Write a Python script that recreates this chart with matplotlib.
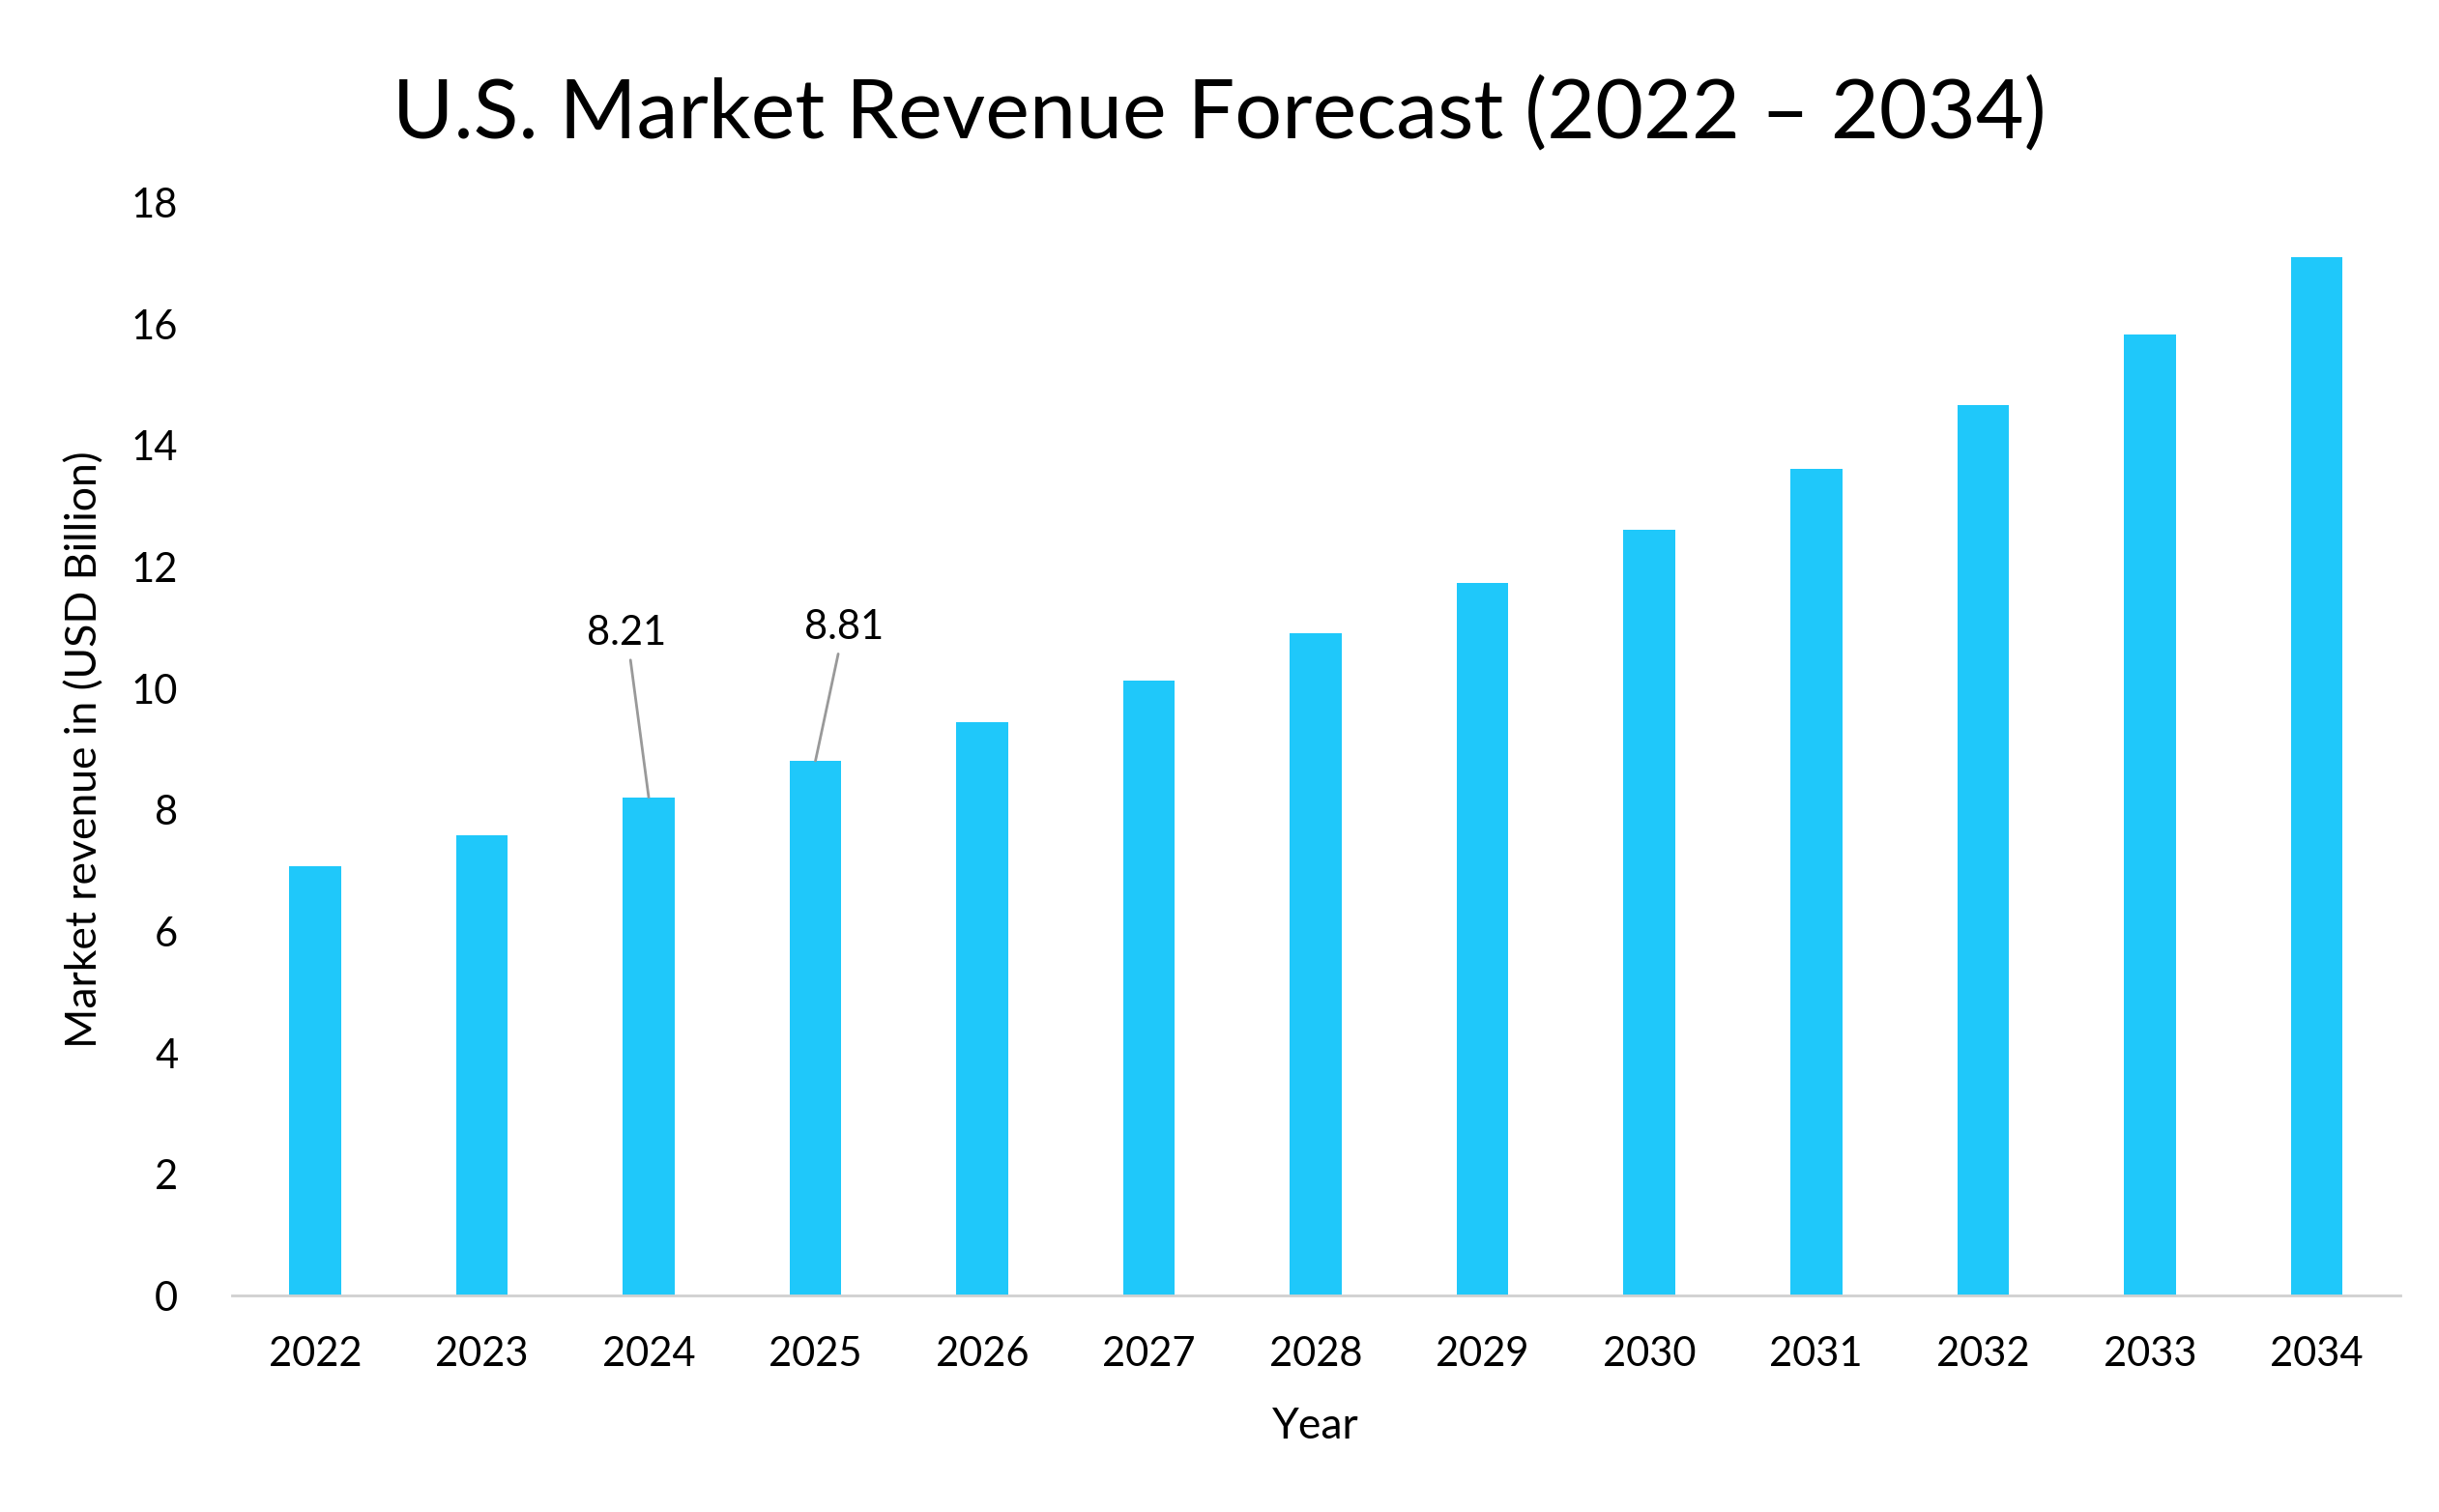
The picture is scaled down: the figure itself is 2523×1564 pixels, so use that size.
import matplotlib
matplotlib.use("Agg")
import matplotlib.pyplot as plt

years = ["2022","2023","2024","2025","2026","2027","2028","2029","2030","2031","2032","2033","2034"]
values = [7.07, 7.58, 8.21, 8.81, 9.44, 10.13, 10.91, 11.73, 12.61, 13.62, 14.67, 15.83, 17.10]
labels = {2: "8.21", 3: "8.81"}
label_pos = {2: (1.87, 10.6), 3: (3.17, 10.7)}

plt.rcParams['font.family'] = ['Lato', 'DejaVu Sans']
fig = plt.figure(figsize=(25.23, 15.64), dpi=100)
ax = fig.add_axes([0.095, 0.143, 0.889, 0.723])
x = list(range(len(years)))
ax.bar(x, values, width=0.31, color="#1FC8FA")
ax.set_xlim(-0.5, len(years) - 0.5)
ax.set_ylim(0, 18)
ax.set_yticks(range(0, 19, 2))
ax.set_xticks(x)
ax.set_xticklabels(years)
ax.tick_params(axis='both', length=0, labelsize=30)
ax.tick_params(axis='x', pad=30)
ax.tick_params(axis='y', pad=40)
for s in ["top", "right", "left"]:
    ax.spines[s].set_visible(False)
ax.spines["bottom"].set_color("#D0D0D0")
ax.spines["bottom"].set_linewidth(2)
ax.set_xlabel("Year", fontsize=32, labelpad=25)
ax.set_ylabel("Market revenue in (USD Billion)", fontsize=32, labelpad=20)
fig.suptitle("U.S. Market Revenue Forecast (2022 \u2013 2034)", fontsize=62, y=0.95)
for i, t in labels.items():
    ax.annotate(t, xy=(i, values[i]), xytext=label_pos[i], fontsize=30,
                ha="center", va="bottom",
                arrowprops=dict(arrowstyle="-", color="#999999", lw=2, shrinkA=4, shrinkB=0))
fig.savefig("out.png", dpi=100, facecolor="white")
